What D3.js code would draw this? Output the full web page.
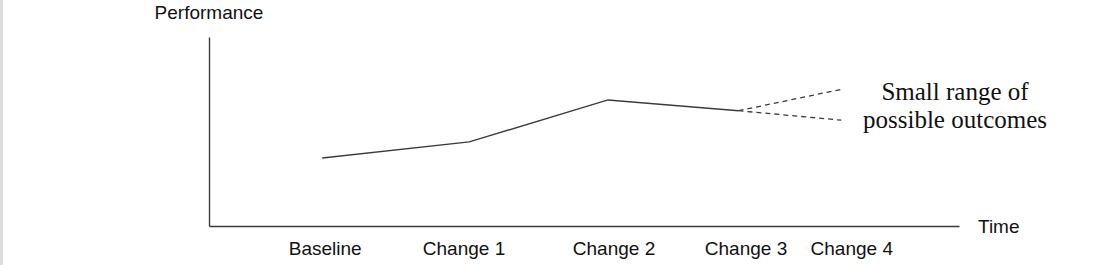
<!DOCTYPE html>
<meta charset="utf-8">
<script src="https://d3js.org/d3.v7.min.js"></script>
<style>
  body { margin: 0; background: #fff; }
  #my_dataviz { border-left: 3px solid #dcdcdc; width: 1097px; height: 265px; }
  .sans { font-family: "Liberation Sans", Arial, sans-serif; font-size: 19px; fill: #111; }
  .serif { font-family: "Liberation Serif", "Times New Roman", serif; font-size: 25px; fill: #111; }
</style>

<div id="my_dataviz"></div>

<script>
  // category labels along the time axis and where they sit (time units 0-100)
  var categories = ["Baseline", "Change 1", "Change 2", "Change 3", "Change 4"]
  var labelTimes = [15.5, 34, 54, 71.6, 85.7]

  // observed performance (0-100) at each change
  var pointTimes = [15.1, 34.7, 53.2, 70.6]
  var performance = [36, 44.5, 66.7, 61]

  // projected range after the last change
  var outcomeTime = 84.3
  var outcomeHigh = 72.3
  var outcomeLow = 56

  var noteLines = ["Small range of", "possible outcomes"]

  var width = 1097
  var height = 265
  var margin = { left: 206, top: 37, right: 141, bottom: 39 }

  var svg = d3.select("#my_dataviz")
    .append("svg")
      .attr("width", width)
      .attr("height", height)

  var x = d3.scaleLinear()
    .domain([0, 100])
    .range([margin.left, width - margin.right])

  var y = d3.scaleLinear()
    .domain([0, 100])
    .range([height - margin.bottom, margin.top])

  var ink = "#3a3a3a"

  // axes: plain lines, no ticks
  svg.append("g")
    .attr("transform", "translate(0," + y(0) + ")")
    .call(d3.axisBottom(x).ticks(0).tickSize(0).tickFormat(""))
    .call(function(g){ g.select(".domain").attr("stroke", ink).attr("stroke-width", 1.4) })

  svg.append("g")
    .attr("transform", "translate(" + x(0) + ",0)")
    .call(d3.axisLeft(y).ticks(0).tickSize(0).tickFormat(""))
    .call(function(g){ g.select(".domain").attr("stroke", ink).attr("stroke-width", 1.4) })

  // axis titles
  svg.append("text")
    .attr("class", "sans")
    .attr("x", x(0))
    .attr("y", 19)
    .attr("text-anchor", "middle")
    .text("Performance")

  svg.append("text")
    .attr("class", "sans")
    .attr("x", x(100) + 19)
    .attr("y", y(0) + 7)
    .text("Time")

  // category labels
  svg.selectAll(".cat")
    .data(categories)
    .enter()
    .append("text")
      .attr("class", "sans cat")
      .attr("x", function(d, i){ return x(labelTimes[i]) })
      .attr("y", 255)
      .attr("text-anchor", "middle")
      .text(function(d){ return d })

  // performance line
  var pts = pointTimes.map(function(t, i){ return [t, performance[i]] })
  var line = d3.line()
    .x(function(d){ return x(d[0]) })
    .y(function(d){ return y(d[1]) })

  svg.append("path")
    .datum(pts)
    .attr("d", line)
    .attr("fill", "none")
    .attr("stroke", ink)
    .attr("stroke-width", 1.4)

  // dashed projections
  var last = pts[pts.length - 1]
  svg.selectAll(".proj")
    .data([outcomeHigh, outcomeLow])
    .enter()
    .append("path")
      .attr("d", function(v){ return line([last, [outcomeTime, v]]) })
      .attr("fill", "none")
      .attr("stroke", ink)
      .attr("stroke-width", 1.3)
      .attr("stroke-dasharray", "5,4")

  // note text
  svg.selectAll(".note")
    .data(noteLines)
    .enter()
    .append("text")
      .attr("class", "serif note")
      .attr("x", 952)
      .attr("y", function(d, i){ return 100 + i * 28 })
      .attr("text-anchor", "middle")
      .text(function(d){ return d })
</script>
